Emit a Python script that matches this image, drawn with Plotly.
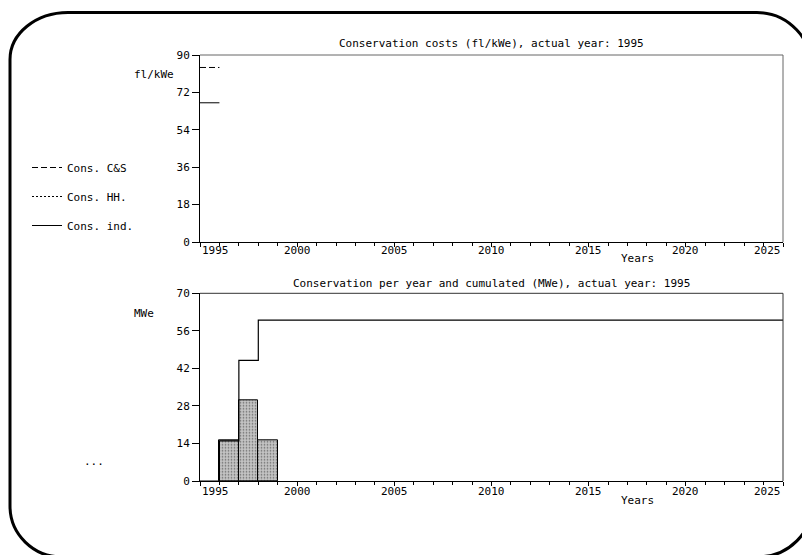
import plotly.graph_objects as go

W, H = 810, 555
OFF = 8  # page body margin in the browser
FONT = "DejaVu Sans Mono"

# ---- data ----
cost_years = [1995]
cost_cs = [84]
cost_hh = [None]
cost_ind = [67]

years = [1995, 1996, 1997, 1998, 1999, 2000, 2001, 2002, 2003, 2004, 2005, 2006, 2007,
         2008, 2009, 2010, 2011, 2012, 2013, 2014, 2015, 2016, 2017, 2018, 2019, 2020,
         2021, 2022, 2023, 2024, 2025]
per_year = [0, 15, 30, 15, 0, 0, 0, 0, 0, 0, 0, 0, 0, 0, 0, 0, 0, 0, 0, 0, 0, 0, 0, 0, 0,
            0, 0, 0, 0, 0, 0]
cumulated = [0, 15, 45, 60, 60, 60, 60, 60, 60, 60, 60, 60, 60, 60, 60, 60, 60, 60, 60,
             60, 60, 60, 60, 60, 60, 60, 60, 60, 60, 60, 60]

x_ticks = [1995, 2000, 2005, 2010, 2015, 2020, 2025]
x_tick_labels = ["1995", "2000", "2005", "2010", "2015", "2020", "2025"]
top_title = "Conservation costs (fl/kWe), actual year: 1995"
bot_title = "Conservation per year and cumulated (MWe), actual year: 1995"


def px(x):
    return (x - OFF) / W


def py(y):
    return 1 - (y - OFF) / H


fig = go.Figure()


def seg(xs):
    out = []
    for v in xs:
        out += [v, v + 1]
    return out


def segv(vs):
    out = []
    for v in vs:
        out += [v, v]
    return out


fig.add_trace(go.Scatter(x=seg(cost_years), y=segv(cost_cs), mode="lines", name="Cons. C&S",
                         line=dict(color="black", width=1, dash="6px,3px"),
                         xaxis="x", yaxis="y", legendgroup="a"))
fig.add_trace(go.Scatter(x=seg(cost_years), y=segv(cost_hh), mode="lines", name="Cons. HH.",
                         line=dict(color="black", width=1, dash="2px,2px"),
                         xaxis="x", yaxis="y", legendgroup="b"))
fig.add_trace(go.Scatter(x=seg(cost_years), y=segv(cost_ind), mode="lines", name="Cons. ind.",
                         line=dict(color="black", width=1),
                         xaxis="x", yaxis="y", legendgroup="c"))

bar_x = [y + 0.5 for y, v in zip(years, per_year) if v]
bar_y = [v for v in per_year if v]
fig.add_trace(go.Bar(x=bar_x, y=bar_y, width=1, showlegend=False,
                     marker=dict(color="white", line=dict(color="black", width=1),
                                 pattern=dict(shape=".", fgcolor="#111111", bgcolor="#c4c4c4",
                                              size=3, solidity=0.25)),
                     xaxis="x2", yaxis="y2"))
fig.add_trace(go.Scatter(x=years, y=cumulated, mode="lines", line_shape="hv", showlegend=False,
                         line=dict(color="black", width=1.2), xaxis="x2", yaxis="y2"))

xdom = [px(200), px(783)]
axis_common = dict(showline=True, linecolor="black", linewidth=1, mirror=False,
                   showgrid=False, zeroline=False, ticks="outside", tickcolor="black",
                   tickfont=dict(family=FONT, size=11, color="black"))

xcommon = dict(axis_common, range=[1995, 2025], tickvals=x_ticks, showticklabels=False,
               ticklen=4, minor=dict(dtick=1, ticks="outside", ticklen=3, tickcolor="black"))

fig.update_layout(
    width=W, height=H,
    margin=dict(l=0, r=0, t=0, b=0, autoexpand=False),
    paper_bgcolor="white", plot_bgcolor="white",
    bargap=0,
    xaxis=dict(xcommon, domain=xdom, anchor="y"),
    yaxis=dict(axis_common, domain=[py(242), py(55)], range=[0, 90], dtick=18, ticklen=7,
               anchor="x"),
    xaxis2=dict(xcommon, domain=xdom, anchor="y2"),
    yaxis2=dict(axis_common, domain=[py(481), py(293.3)], range=[0, 70], dtick=14, ticklen=7,
                anchor="x2"),
    showlegend=True,
    legend=dict(x=px(27), y=py(153), xanchor="left", yanchor="top",
                font=dict(family=FONT, size=11, color="black"),
                bgcolor="rgba(0,0,0,0)", tracegroupgap=10, itemwidth=30),
)

# top / right borders of the two plot boxes
for xr, yr, col in (("x domain", "y domain", "#666666"), ("x2 domain", "y2 domain", "#333333")):
    fig.add_shape(type="line", xref=xr, yref=yr, x0=0, x1=1, y0=1, y1=1,
                  line=dict(color=col, width=1))
    fig.add_shape(type="line", xref=xr, yref=yr, x0=1, x1=1, y0=0, y1=1,
                  line=dict(color=col, width=1))

ann = []
for ax, yy in (("x", 251), ("x2", 491)):
    for i, (t, lab) in enumerate(zip(x_ticks, x_tick_labels)):
        anchor = "left" if i == 0 else ("right" if i == len(x_ticks) - 1 else "center")
        ann.append(dict(x=t, xref=ax, y=py(yy), yref="paper", text=lab, showarrow=False,
                        xanchor=anchor, yanchor="middle",
                        font=dict(family=FONT, size=11, color="black")))

texts = [
    (top_title, 491.5, 43, "center"),
    (bot_title, 491.5, 283, "center"),
    ("Years", 637, 258, "center"),
    ("Years", 637, 500, "center"),
    ("fl/kWe", 132, 74, "left"),
    ("MWe", 132, 313, "left"),
    ("...", 82, 461, "left"),
]
for t, x, y, a in texts:
    ann.append(dict(x=px(x), y=py(y), xref="paper", yref="paper", text=t, showarrow=False,
                    xanchor=a, yanchor="middle",
                    font=dict(family=FONT, size=11, color="black")))
fig.update_layout(annotations=ann)

# rounded frame (per-corner radii, cubic elliptical arcs)
K = 0.5523
L, T, R, B = 10, 12.5, 813, 557
tl = (58, 47)
tr = (56, 59)
br = (55, 55)
bl = (52, 51)


def P(x, y):
    return f"{px(x)},{py(y)}"


path = (
    f"M {P(L, T + tl[1])} "
    f"C {P(L, T + tl[1] - K * tl[1])} {P(L + tl[0] - K * tl[0], T)} {P(L + tl[0], T)} "
    f"L {P(R - tr[0], T)} "
    f"C {P(R - tr[0] + K * tr[0], T)} {P(R, T + tr[1] - K * tr[1])} {P(R, T + tr[1])} "
    f"L {P(R, B - br[1])} "
    f"C {P(R, B - br[1] + K * br[1])} {P(R - br[0] + K * br[0], B)} {P(R - br[0], B)} "
    f"L {P(L + bl[0], B)} "
    f"C {P(L + bl[0] - K * bl[0], B)} {P(L, B - bl[1] + K * bl[1])} {P(L, B - bl[1])} Z"
)
fig.add_shape(type="path", path=path, xref="paper", yref="paper",
              line=dict(color="black", width=3), layer="above")

fig.write_html("out.html")
